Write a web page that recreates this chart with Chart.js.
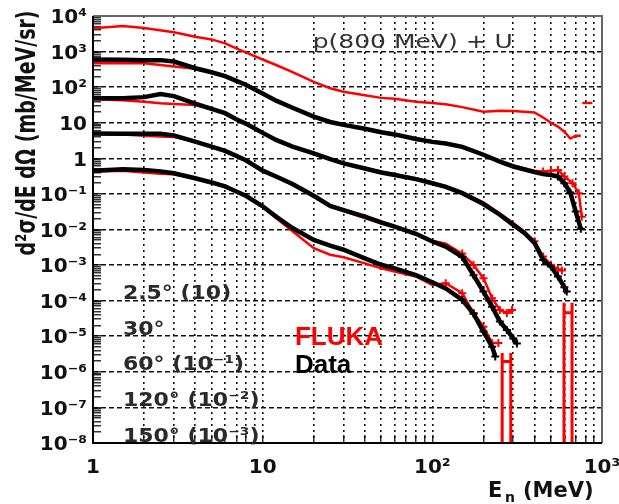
<!DOCTYPE html>
<html>
<head>
<meta charset="utf-8">
<script src="https://cdn.jsdelivr.net/npm/chart.js@4/dist/chart.umd.min.js"></script>
<style>
  body { margin: 0; background: #fff; }
  canvas { display: block; }
</style>
</head>
<body>
<canvas id="chart" width="619" height="504"></canvas>
<script>
// values (already multiplied by the factor in the labels)
var e2p5Fluka = [1, 1.5, 2, 3, 4, 5, 6, 7, 8, 10, 12, 15, 20, 25, 30, 40, 50, 60, 80, 100, 120, 150, 200, 250, 300, 400, 450, 500, 550, 600, 650, 700, 750];
var v2p5Fluka = [4500, 5200, 4600, 3500, 2600, 2200, 1700, 1230, 930, 600, 420, 265, 140, 93, 74, 59, 50, 47, 39, 36, 33, 27.5, 20.4, 21.9, 21.4, 19.5, 14.1, 10, 7.8, 5.6, 3.6, 4.3, 4.3];
var e2p5FlukaLone = [820];
var v2p5FlukaLone = [36];

var e30Data = [1, 1.5, 2, 2.5, 3, 4, 5, 6, 7, 8, 10, 12, 15, 20, 25, 30, 40, 50, 60, 80, 100, 120, 150, 200, 250, 300, 400, 450, 500, 550, 600, 650, 700, 750];
var v30Data = [600, 590, 575, 575, 525, 340, 263, 204, 151, 115, 66, 41.7, 26.3, 14.8, 10.5, 8.7, 6.8, 5.4, 4.7, 3.5, 2.9, 2.6, 2.1, 1.26, 0.81, 0.59, 0.41, 0.36, 0.34, 0.31, 0.20, 0.11, 0.032, 0.0105];
var e30Fluka = [1, 1.5, 2, 2.5, 3, 4, 5, 6, 7, 8, 10, 12, 15, 20, 25, 30, 40, 50, 60, 80, 100, 120, 150, 200, 250, 300, 400, 450, 500, 550, 600, 670, 730, 760];
var v30Fluka = [470, 470, 468, 417, 380, 331, 257, 200, 148, 112, 63, 41.7, 26.9, 15.1, 10.7, 8.9, 6.9, 5.5, 4.8, 3.6, 3.0, 2.7, 2.2, 1.32, 0.85, 0.63, 0.45, 0.43, 0.45, 0.47, 0.31, 0.20, 0.105, 0.023];

var e60Data = [1, 1.5, 2, 2.5, 3, 4, 5, 6, 7, 8, 10, 12, 15, 20, 25, 30, 40, 50, 60, 80, 100, 120, 150, 200, 250, 300, 350, 400, 450, 500, 550, 600, 620];
var v60Data = [49, 49, 52.5, 64.6, 56, 34.7, 24.5, 18.6, 12.6, 9.3, 5.2, 3.3, 2.14, 1.38, 0.95, 0.72, 0.52, 0.40, 0.34, 0.26, 0.20, 0.158, 0.105, 0.052, 0.026, 0.0135, 0.0079, 0.0042, 0.0014, 0.00091, 0.00048, 0.00024, 0.00018];
var e60Fluka = [1, 1.5, 2, 2.5, 3, 4, 5, 6, 7, 8, 10, 12, 15, 20, 25, 30, 40, 50, 60, 80, 100, 120, 150, 200, 250, 300, 350, 400, 450, 500, 550, 580];
var v60Fluka = [45.7, 42.7, 38.9, 35.5, 33.9, 31.6, 24, 18.2, 12.6, 9.3, 5.4, 3.4, 2.19, 1.41, 0.95, 0.74, 0.54, 0.42, 0.355, 0.275, 0.21, 0.166, 0.112, 0.058, 0.028, 0.0151, 0.0087, 0.0047, 0.00174, 0.00102, 0.00076, 0.00071];
var e60FlukaZero = [597, 597, 597, 666, 666, 666];
var v60FlukaZero = [1e-12, 8.7e-5, 4.6e-5, 4.6e-5, 8.7e-5, 1e-12];

var e120Data = [1, 1.5, 2, 2.5, 3, 4, 5, 6, 7, 8, 10, 12, 15, 20, 25, 30, 40, 50, 60, 80, 100, 120, 150, 175, 200, 225, 250, 275, 300, 315];
var v120Data = [5.0, 4.9, 4.9, 4.9, 4.4, 2.95, 2.14, 1.62, 1.17, 0.87, 0.45, 0.31, 0.19, 0.089, 0.046, 0.035, 0.023, 0.0158, 0.012, 0.0076, 0.0046, 0.0033, 0.0017, 0.00052, 0.00018, 6.8e-5, 2.6e-5, 1.5e-5, 8.7e-6, 6.3e-6];
var e120Fluka = [1, 1.5, 2, 2.5, 3, 4, 5, 6, 7, 8, 10, 12, 15, 20, 25, 30, 40, 50, 60, 80, 100, 120, 150, 175, 200, 225, 250, 275, 295];
var v120Fluka = [4.8, 4.7, 4.3, 4.1, 4.0, 2.9, 2.1, 1.58, 1.15, 0.85, 0.44, 0.30, 0.18, 0.083, 0.044, 0.033, 0.021, 0.0148, 0.0115, 0.0076, 0.0048, 0.0040, 0.0021, 0.0010, 0.00043, 0.000117, 5.5e-5, 4.5e-5, 5.5e-5];

var e150Data = [1, 1.5, 2, 2.5, 3, 4, 5, 6, 7, 8, 10, 12, 15, 20, 25, 30, 40, 50, 60, 80, 100, 120, 150, 175, 200, 225, 235];
var v150Data = [0.45, 0.49, 0.47, 0.43, 0.38, 0.275, 0.21, 0.162, 0.117, 0.087, 0.045, 0.023, 0.011, 0.0051, 0.0035, 0.0027, 0.00155, 0.00102, 0.00081, 0.00052, 0.00033, 0.00022, 0.000105, 4.3e-5, 1.35e-5, 5.1e-6, 2.7e-6];
var e150Fluka = [1, 1.5, 2, 2.5, 3, 4, 5, 6, 7, 8, 10, 12, 15, 20, 25, 30, 40, 50, 60, 80, 100, 120, 150, 175, 200, 225, 245];
var v150Fluka = [0.43, 0.45, 0.40, 0.37, 0.355, 0.27, 0.20, 0.158, 0.115, 0.085, 0.043, 0.021, 0.0089, 0.0030, 0.00195, 0.00166, 0.00112, 0.00081, 0.00066, 0.00048, 0.000275, 0.00031, 0.000162, 4.5e-5, 1.86e-5, 6.5e-6, 6.5e-6];
var e150FlukaZero = [258, 258, 258, 290, 290, 290];
var v150FlukaZero = [1e-12, 3.4e-6, 1.95e-6, 1.95e-6, 3.4e-6, 1e-12];

// axes
var xMajorTicks = [1, 10, 100, 1000];
var xTickLabels = ['1', '10', '10²', '10³'];
var yMajorTicks = [1e-8, 1e-7, 1e-6, 1e-5, 1e-4, 1e-3, 1e-2, 1e-1, 1, 10, 100, 1000, 10000];
var yTickLabels = ['10⁻⁸', '10⁻⁷', '10⁻⁶', '10⁻⁵', '10⁻⁴', '10⁻³', '10⁻²', '10⁻¹', '1', '10', '10²', '10³', '10⁴'];

var curveLabels = ['2.5° (10)', '30°', '60° (10⁻¹)', '120° (10⁻²)', '150° (10⁻³)'];
var curveLabelAt = [1.1e-4, 1.1e-5, 1.1e-6, 1.1e-7, 1.1e-8];

// minor grid positions 2..9 between the decades
function withMinor(majors) {
	var out = [];
	for (var i = 0; i < majors.length; i++) {
		out.push(majors[i]);
		if (i < majors.length - 1) {
			for (var m = 2; m < 10; m++) out.push(m * majors[i]);
		}
	}
	return out;
}
var xGridValues = withMinor(xMajorTicks);
var yGridValues = withMinor(yMajorTicks);

function pts(xs, ys) {
	return xs.map(function (e, i) { return {x: e, y: ys[i]}; });
}

function dataLine(xs, ys, tailFrom) {
	return {
		data: pts(xs, ys), showLine: true, order: 0,
		borderColor: '#000', borderWidth: 4.5,
		pointStyle: 'cross', pointBorderColor: '#000', pointBorderWidth: 2,
		pointRadius: function (c) { return c.raw && c.raw.x >= tailFrom ? 4 : 0; }
	};
}

function flukaLine(xs, ys, tailFrom) {
	return {
		data: pts(xs, ys), showLine: true, order: 1,
		borderColor: '#ff0000', borderWidth: 2.5,
		pointStyle: 'cross', pointBorderColor: '#ff0000', pointBorderWidth: 2,
		pointRadius: function (c) { return c.raw && c.raw.x >= tailFrom ? 4 : 0; }
	};
}

function flukaZero(xs, ys) {
	return { data: pts(xs, ys), showLine: true, order: 1, borderColor: '#ff0000', borderWidth: 3, pointRadius: 0 };
}

function stretchText(ctx, str, px, py, font, color, sx) {
	ctx.save();
	ctx.font = font;
	ctx.fillStyle = color;
	ctx.textAlign = 'left';
	ctx.textBaseline = 'alphabetic';
	ctx.translate(px, py);
	ctx.scale(sx, 1);
	ctx.fillText(str, 0, 0);
	ctx.restore();
}

var textLayer = {
	id: 'textLayer',
	afterDatasetsDraw: function (chart) {
		var ctx = chart.ctx, a = chart.chartArea;
		var x = chart.scales.x, y = chart.scales.y;

		// frame
		ctx.save();
		ctx.lineWidth = 2;
		ctx.strokeStyle = '#666';
		ctx.beginPath();
		ctx.moveTo(a.left, a.top); ctx.lineTo(a.right, a.top); ctx.lineTo(a.right, a.bottom);
		ctx.stroke();
		ctx.strokeStyle = '#000';
		ctx.beginPath();
		ctx.moveTo(a.left, a.top); ctx.lineTo(a.left, a.bottom); ctx.lineTo(a.right, a.bottom);
		ctx.stroke();
		ctx.restore();

		// angle labels
		for (var i = 0; i < curveLabels.length; i++) {
			stretchText(ctx, curveLabels[i], x.getPixelForValue(1.5), y.getPixelForValue(curveLabelAt[i]),
				'bold 20px "DejaVu Sans"', '#2a2a2a', 1.1);
		}

		stretchText(ctx, 'p(800 MeV) + U', x.getPixelForValue(19.7), y.getPixelForValue(1300),
			'20px "DejaVu Sans"', '#333', 1.25);
		stretchText(ctx, 'FLUKA', x.getPixelForValue(15.5), y.getPixelForValue(5.8e-6),
			'bold 26px "Liberation Sans"', '#ff0000', 1);
		stretchText(ctx, 'Data', x.getPixelForValue(15.5), y.getPixelForValue(9.3e-7),
			'bold 26px "Liberation Sans"', '#000', 1);

		// x title: E_n (MeV)
		var x0 = a.right - 114, yb = a.bottom + 54;
		stretchText(ctx, 'E', x0, yb, 'bold 21px "DejaVu Sans"', '#111', 1);
		stretchText(ctx, 'n', x0 + 17, yb + 5, 'bold 14px "DejaVu Sans"', '#111', 1);
		stretchText(ctx, '(MeV)', x0 + 35, yb, 'bold 21px "DejaVu Sans"', '#111', 1);

		// y title, rotated
		ctx.save();
		ctx.font = 'bold 19px "DejaVu Sans"';
		ctx.fillStyle = '#111';
		ctx.textAlign = 'center';
		ctx.textBaseline = 'middle';
		ctx.translate(28, 133);
		ctx.rotate(-Math.PI / 2);
		ctx.scale(1, 1.4);
		ctx.fillText('d²σ/dE dΩ (mb/MeV/sr)', 0, 0);
		ctx.restore();
	}
};

var tickFont = { family: 'DejaVu Sans', size: 20, weight: 'bold' };

var ctx = document.getElementById('chart');
window.myChart = new Chart(ctx, {
	type: 'scatter',
	data: {
		datasets: [
			dataLine(e30Data, v30Data, 550),
			dataLine(e60Data, v60Data, 450),
			dataLine(e120Data, v120Data, 150),
			dataLine(e150Data, v150Data, 150),
			flukaLine(e2p5Fluka, v2p5Fluka, 2000),
			{ data: pts(e2p5FlukaLone, v2p5FlukaLone), order: 1, pointStyle: 'line', pointRadius: 5,
				pointBorderColor: '#ff0000', pointBorderWidth: 2.5 },
			flukaLine(e30Fluka, v30Fluka, 450),
			flukaLine(e60Fluka, v60Fluka, 400),
			flukaLine(e120Fluka, v120Fluka, 150),
			flukaLine(e150Fluka, v150Fluka, 120),
			flukaZero(e60FlukaZero, v60FlukaZero),
			flukaZero(e150FlukaZero, v150FlukaZero)
		]
	},
	options: {
		responsive: false,
		animation: false,
		devicePixelRatio: 1,
		layout: { padding: { top: 16, right: 17, bottom: 0, left: 0 } },
		plugins: { legend: { display: false }, tooltip: { enabled: false } },
		scales: {
			x: {
				type: 'logarithmic', min: 1, max: 1000,
				afterBuildTicks: function (s) { s.ticks = xGridValues.map(function (v) { return {value: v}; }); },
				afterFit: function (s) { s.height = 61; s.paddingLeft = 0; s.paddingRight = 0; },
				ticks: {
					autoSkip: false, maxRotation: 0, padding: 21, font: tickFont, color: '#111',
					callback: function (v) { var i = xMajorTicks.indexOf(v); return i < 0 ? '' : xTickLabels[i]; }
				},
				grid: { color: '#111', lineWidth: 1.6, tickLength: -8, tickColor: '#000', tickWidth: 1.2 },
				border: { display: false, dash: [2, 4] }
			},
			y: {
				type: 'logarithmic', min: 1e-8, max: 1e4,
				afterBuildTicks: function (s) { s.ticks = yGridValues.map(function (v) { return {value: v}; }); },
				afterFit: function (s) { s.width = 93; s.paddingTop = 0; s.paddingBottom = 0; },
				ticks: {
					autoSkip: false, padding: 14, labelOffset: 2, font: tickFont, color: '#111',
					callback: function (v) { var i = yMajorTicks.indexOf(v); return i < 0 ? '' : yTickLabels[i]; }
				},
				grid: {
					color: function (c) { return yMajorTicks.indexOf(c.tick.value) >= 0 ? '#111' : 'rgba(0,0,0,0)'; },
					lineWidth: 1.6, tickLength: -8, tickColor: '#000', tickWidth: 1.2
				},
				border: { display: false, dash: [5, 3] }
			}
		}
	},
	plugins: [textLayer]
});
</script>
</body>
</html>
